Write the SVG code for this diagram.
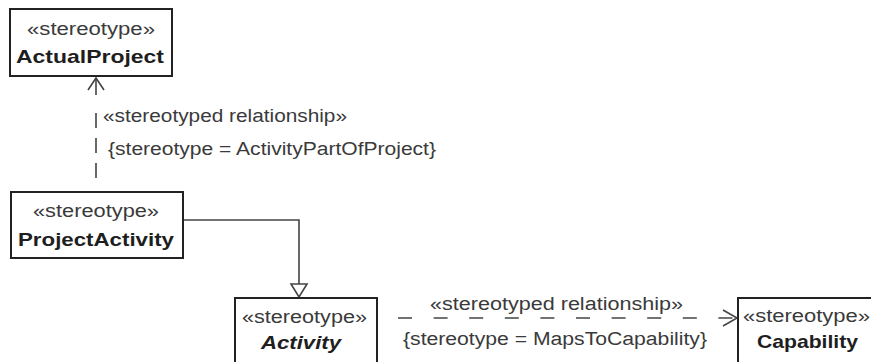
<svg xmlns="http://www.w3.org/2000/svg" width="871" height="362" viewBox="0 0 871 362">
<style>
.box{fill:#fff;stroke:#222;stroke-width:2}
.st{font-family:"Liberation Sans",Arial,sans-serif;font-size:18px;fill:#3a3a3a;text-anchor:middle}
.nm{font-family:"Liberation Sans",Arial,sans-serif;font-size:19px;font-weight:bold;fill:#1e1e1e;text-anchor:middle}
.lbl{font-family:"Liberation Sans",Arial,sans-serif;font-size:18px;fill:#3a3a3a}
.ln{fill:none;stroke:#444;stroke-width:1.6}
</style>
<rect width="871" height="362" fill="#fff"/>
<g id="connectors">
<g id="dep1">
<path class="ln" d="M96,178 L96,78" stroke-dasharray="15 10 15 10 15 18 17"/>
<path class="ln" d="M88,90 L96,78 L104,90"/>
<text class="lbl" x="103" y="122" textLength="244" lengthAdjust="spacingAndGlyphs">«stereotyped relationship»</text>
<text class="lbl" x="108" y="155" textLength="328" lengthAdjust="spacingAndGlyphs">{stereotype = ActivityPartOfProject}</text>
</g>
<g id="gen1">
<path class="ln" d="M183,220 L299,220 L299,284"/>
<path d="M291,284 L307,284 L299,297 Z" fill="#fff" stroke="#444" stroke-width="1.6"/>
</g>
<g id="dep2">
<path class="ln" d="M398,318 L737,318" stroke-dasharray="14 21.6"/>
<path class="ln" d="M723,310 L737,318 L723,326"/>
<text class="lbl" x="430" y="310" textLength="253" lengthAdjust="spacingAndGlyphs">«stereotyped relationship»</text>
<text class="lbl" x="403" y="345" textLength="304" lengthAdjust="spacingAndGlyphs">{stereotype = MapsToCapability}</text>
</g>
</g>
<g id="ActualProject">
<rect class="box" x="10" y="9" width="162" height="67"/>
<text class="st" x="91" y="35" textLength="128" lengthAdjust="spacingAndGlyphs">«stereotype»</text>
<text class="nm" x="90" y="63" textLength="148" lengthAdjust="spacingAndGlyphs">ActualProject</text>
</g>
<g id="ProjectActivity">
<rect class="box" x="11" y="192" width="172" height="66"/>
<text class="st" x="96" y="217" textLength="126" lengthAdjust="spacingAndGlyphs">«stereotype»</text>
<text class="nm" x="96" y="246" textLength="156" lengthAdjust="spacingAndGlyphs">ProjectActivity</text>
</g>
<g id="Activity">
<rect class="box" x="235" y="298" width="142" height="70"/>
<text class="st" x="304.5" y="323" textLength="125" lengthAdjust="spacingAndGlyphs">«stereotype»</text>
<text class="nm" x="301" y="349" font-style="italic" textLength="80" lengthAdjust="spacingAndGlyphs">Activity</text>
</g>
<g id="Capability">
<rect class="box" x="738" y="298" width="140" height="70"/>
<text class="st" x="806.5" y="322" textLength="127" lengthAdjust="spacingAndGlyphs">«stereotype»</text>
<text class="nm" x="807.5" y="348" textLength="101" lengthAdjust="spacingAndGlyphs">Capability</text>
</g>
</svg>
